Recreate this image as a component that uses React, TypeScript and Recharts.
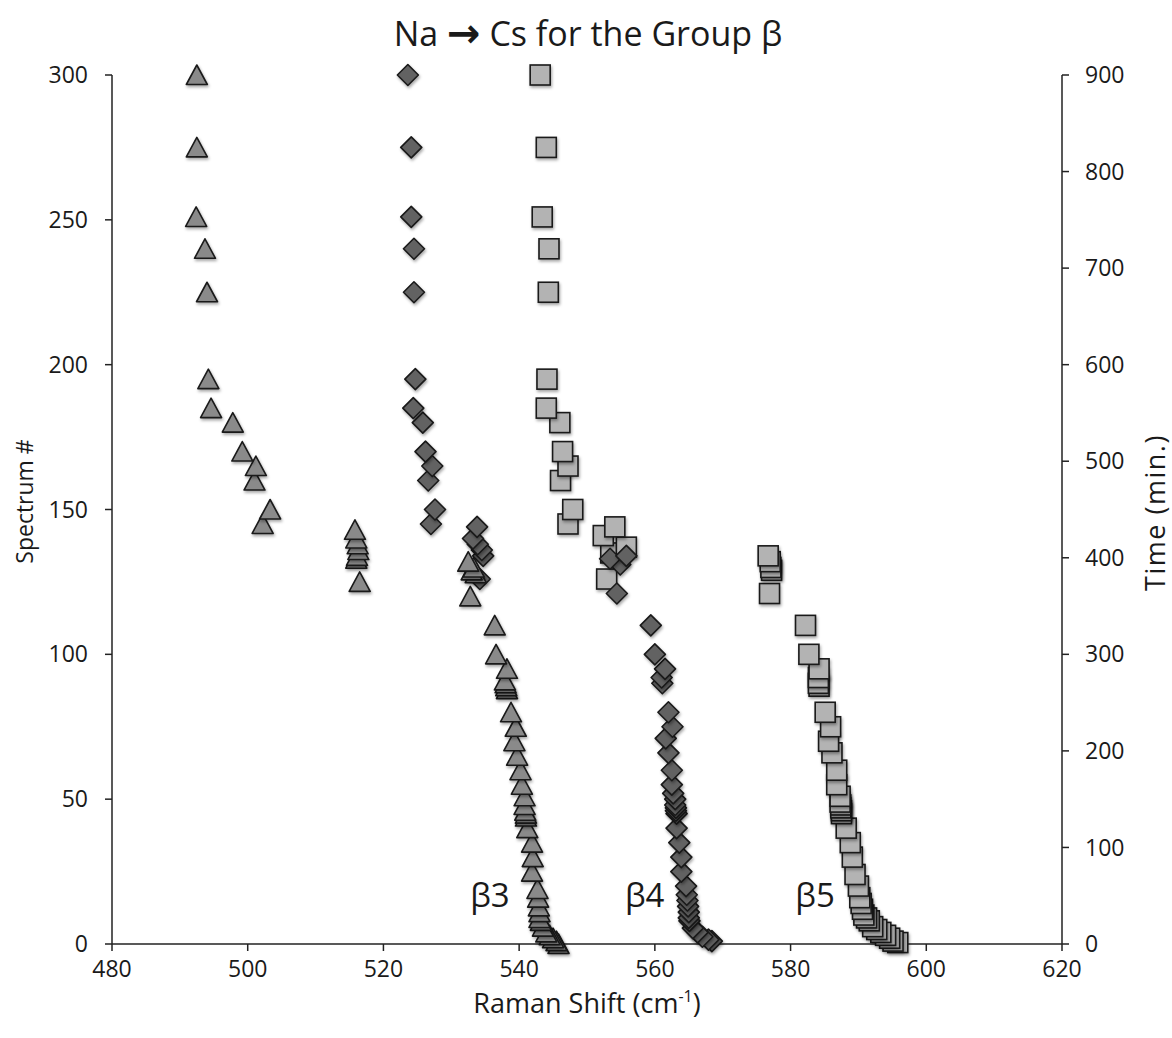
import { Label, Scatter, ScatterChart, XAxis, YAxis } from 'recharts';

// Raman shift (cm-1) vs spectrum #
const beta3: [number, number][] = [
  [492.5, 300], [492.5, 275], [492.4, 251], [493.7, 240], [494.0, 225], [494.2, 195],
  [494.6, 185], [497.8, 180], [499.2, 170], [501.2, 165], [501.0, 160], [503.3, 150],
  [502.2, 145], [515.8, 143], [516.0, 140], [516.2, 138], [516.3, 136], [516.1, 134],
  [516.0, 133], [516.5, 125], [532.5, 132], [533.0, 129], [533.6, 128], [533.3, 130],
  [532.8, 120], [536.4, 110], [536.6, 100], [538.2, 95], [537.9, 91], [538.0, 90],
  [538.1, 89], [538.2, 88], [538.8, 80], [539.5, 75], [539.3, 70], [539.7, 65],
  [540.2, 60], [540.4, 55], [540.8, 51], [540.8, 48], [540.9, 46], [541.0, 45],
  [541.0, 44], [541.2, 40], [541.9, 35], [542.0, 30], [541.9, 25], [542.7, 19],
  [542.8, 16], [542.9, 13], [543.0, 11], [543.0, 9], [543.2, 8], [543.5, 6],
  [544.0, 4], [544.5, 3], [545.0, 2], [545.5, 1], [545.8, 0],
];

const beta4: [number, number][] = [
  [523.6, 300], [524.1, 275], [524.1, 251], [524.5, 240], [524.5, 225], [524.7, 195],
  [524.4, 185], [525.8, 180], [526.2, 170], [527.2, 165], [526.6, 160], [527.6, 150],
  [527.0, 145], [533.8, 144], [533.2, 140], [533.9, 138], [534.5, 136], [534.7, 134],
  [534.2, 126], [553.4, 133], [555.8, 134], [554.9, 131], [554.4, 121], [559.4, 110],
  [560.0, 100], [561.5, 95], [561.0, 92], [561.1, 90], [562.0, 80], [562.6, 75],
  [561.6, 71], [562.0, 66], [562.5, 60], [562.5, 55], [562.7, 52], [563.0, 50],
  [563.0, 48], [563.1, 47], [563.1, 46], [563.2, 45], [563.2, 40], [563.6, 35],
  [563.9, 30], [563.9, 25], [564.6, 20], [564.7, 17], [564.8, 15], [564.9, 13],
  [565.0, 11], [565.0, 9], [565.1, 8], [565.6, 5.5], [566.3, 4], [567.0, 2.5],
  [567.9, 1.5], [568.4, 1],
];

const beta5: [number, number][] = [
  [543.1, 300], [544.0, 275], [543.4, 251], [544.4, 240], [544.3, 225], [544.1, 195],
  [544.0, 185], [546.0, 180], [546.4, 170], [547.2, 165], [546.1, 160], [547.9, 150],
  [547.2, 145], [554.1, 144], [552.4, 141], [555.8, 137], [553.5, 135], [552.9, 126],
  [576.7, 134], [577.0, 132], [577.1, 130], [577.2, 129], [576.9, 121], [582.2, 110],
  [582.7, 100], [584.2, 95], [584.1, 92], [584.1, 90], [584.2, 89], [585.1, 80],
  [585.9, 75], [585.6, 70], [586.1, 66], [586.8, 60], [586.8, 55], [587.3, 51],
  [587.3, 49], [587.4, 48], [587.4, 47], [587.5, 46], [587.5, 45], [588.2, 40],
  [588.8, 35], [589.1, 30], [589.5, 24], [590.0, 20], [590.2, 16], [590.4, 14],
  [590.6, 12], [590.8, 10], [591.2, 9], [591.6, 8], [592.1, 6], [592.7, 5],
  [593.3, 4], [594.0, 3], [594.6, 2], [595.1, 1], [595.8, 0.5],
];

// band annotations, y given in minutes (right axis)
const bandLabels: { name: string; x: number; y: number }[] = [
  { name: 'β3', x: 535.7, y: 51 },
  { name: 'β4', x: 558.5, y: 51 },
  { name: 'β5', x: 583.6, y: 51 },
];

const xTicks = [480, 500, 520, 540, 560, 580, 600, 620];
const yTicks = [0, 50, 100, 150, 200, 250, 300];
const timeTicks = [0, 100, 200, 300, 400, 500, 600, 700, 800, 900];

const FONT = '"Open Sans", sans-serif';
const INK = '#1a1a1a';
const shadow = { filter: 'drop-shadow(1px 2px 1.5px rgba(0,0,0,0.35))' };

// plot low spectrum numbers first so the upper points sit on top, like the original
const toPoints = (rows: [number, number][]) =>
  [...rows].sort((a, b) => a[1] - b[1]).map(([x, y]) => ({ x, y }));

const Triangle = (p: any) => (
  <path
    d={`M${p.cx},${p.cy - 10}L${p.cx + 10.5},${p.cy + 9.5}L${p.cx - 10.5},${p.cy + 9.5}Z`}
    fill="#8a8a8a"
    stroke={INK}
    strokeWidth={1.6}
    strokeLinejoin="round"
    style={shadow}
  />
);

const Diamond = (p: any) => (
  <path
    d={`M${p.cx},${p.cy - 10.5}L${p.cx + 10.5},${p.cy}L${p.cx},${p.cy + 10.5}L${p.cx - 10.5},${p.cy}Z`}
    fill="#626262"
    stroke={INK}
    strokeWidth={1.6}
    strokeLinejoin="round"
    style={shadow}
  />
);

const Square = (p: any) => (
  <rect
    x={p.cx - 10}
    y={p.cy - 10}
    width={20}
    height={20}
    fill="#b3b3b3"
    stroke={INK}
    strokeWidth={1.6}
    style={shadow}
  />
);

const BandText = (p: any) => (
  <text
    x={p.cx}
    y={p.cy}
    textAnchor="middle"
    dominantBaseline="central"
    fontFamily={FONT}
    fontSize={33}
    fill={INK}
  >
    {p.payload.name}
  </text>
);

const tickStyle = { fill: INK, fontSize: 23, fontFamily: FONT };
const axisLine = { stroke: '#222', strokeWidth: 1.5 };

export default function App() {
  return (
    <div style={{ position: 'absolute', left: 0, top: 0, width: 1172, height: 1038, background: '#fff' }}>
      <div
        style={{
          position: 'absolute',
          top: 9,
          left: 0,
          width: 1172,
          height: 48,
          lineHeight: '48px',
          textAlign: 'center',
          fontFamily: FONT,
          fontSize: 34,
          color: INK,
          paddingLeft: 4,
          boxSizing: 'border-box',
        }}
      >
        Na{' '}
        <span
          style={{
            fontFamily: '"DejaVu Sans", sans-serif',
            fontWeight: 'bold',
            fontSize: 40,
            lineHeight: '40px',
            position: 'relative',
            top: 1,
          }}
        >
          →
        </span>
        {' '}Cs for the Group β
      </div>
      <ScatterChart width={1172} height={1038} margin={{ top: 75, right: 50, bottom: 44, left: 52 }}>
        <XAxis
          type="number"
          dataKey="x"
          domain={[480, 620]}
          ticks={xTicks}
          interval={0}
          height={50}
          tick={tickStyle}
          tickSize={7}
          tickMargin={10}
          axisLine={axisLine}
          tickLine={axisLine}
        >
          <Label
            content={({ viewBox }: any) => (
              <text
                x={viewBox.x + viewBox.width / 2}
                y={1013}
                textAnchor="middle"
                fontFamily={FONT}
                fontSize={27}
                fill={INK}
              >
                Raman Shift (cm
                <tspan fontSize={16} dy={-11}>-1</tspan>
                <tspan dy={11}>)</tspan>
              </text>
            )}
          />
        </XAxis>
        <YAxis
          yAxisId="left"
          type="number"
          dataKey="y"
          domain={[0, 300]}
          ticks={yTicks}
          interval={0}
          width={60}
          tick={tickStyle}
          tickSize={7}
          tickMargin={17}
          axisLine={axisLine}
          tickLine={axisLine}
        >
          <Label
            content={({ viewBox }: any) => (
              <text
                x={24}
                y={viewBox.y + viewBox.height / 2 - 8}
                textAnchor="middle"
                dominantBaseline="central"
                transform={`rotate(-90, 24, ${viewBox.y + viewBox.height / 2 - 8})`}
                fontFamily={FONT}
                fontSize={23}
                fill={INK}
              >
                Spectrum #
              </text>
            )}
          />
        </YAxis>
        <YAxis
          yAxisId="right"
          orientation="right"
          type="number"
          dataKey="y"
          domain={[0, 900]}
          allowDataOverflow
          ticks={timeTicks}
          interval={0}
          width={60}
          tick={tickStyle}
          tickSize={7}
          tickMargin={16}
          axisLine={axisLine}
          tickLine={axisLine}
        >
          <Label
            content={({ viewBox }: any) => (
              <text
                x={1154}
                y={viewBox.y + viewBox.height / 2 + 3}
                textAnchor="middle"
                dominantBaseline="central"
                transform={`rotate(-90, 1154, ${viewBox.y + viewBox.height / 2 + 3})`}
                fontFamily={FONT}
                fontSize={27}
                letterSpacing={1.5}
                fill={INK}
              >
                Time (min.)
              </text>
            )}
          />
        </YAxis>
        <Scatter yAxisId="left" data={toPoints(beta5)} shape={Square} isAnimationActive={false} />
        <Scatter yAxisId="left" data={toPoints(beta4)} shape={Diamond} isAnimationActive={false} />
        <Scatter yAxisId="left" data={toPoints(beta3)} shape={Triangle} isAnimationActive={false} />
        <Scatter yAxisId="right" data={bandLabels} shape={BandText} isAnimationActive={false} />
      </ScatterChart>
    </div>
  );
}
